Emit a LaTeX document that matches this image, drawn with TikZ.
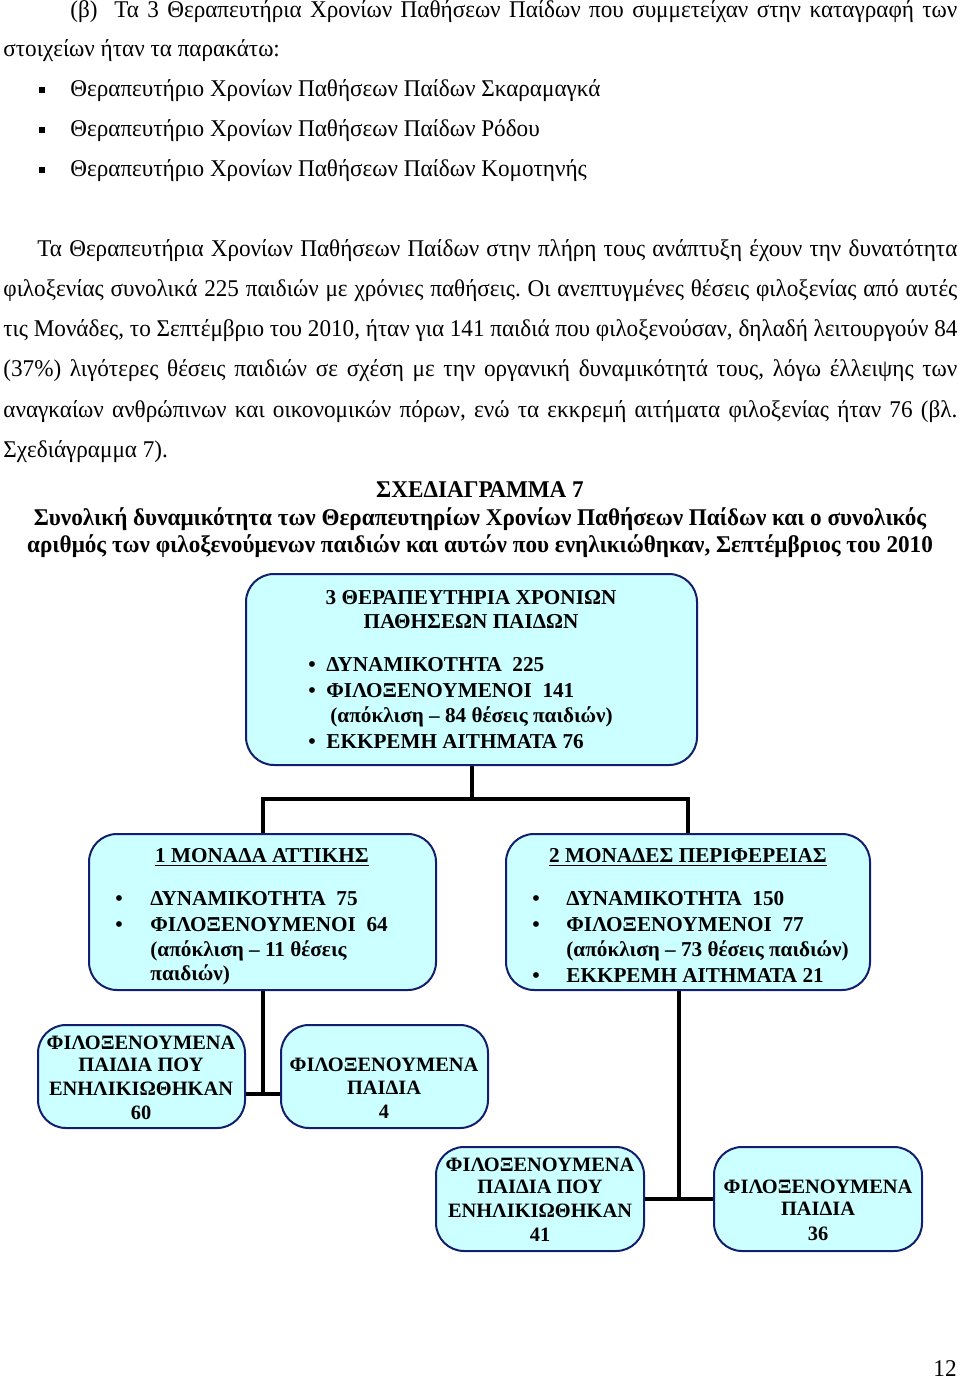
\documentclass[tikz,border=0pt]{standalone}
\usepackage{fontspec}
\setmainfont{Liberation Serif}
\newfontfamily\narrowserif{Liberation Serif}[FakeStretch=0.965]
\usepackage{xcolor}
\usetikzlibrary{positioning,calc}
\definecolor{unitfill}{RGB}{204,255,255}
\definecolor{unitline}{RGB}{20,30,110}
\frenchspacing
\tikzset{
  unit/.style={draw=unitline, line width=1pt, fill=unitfill, rounded corners=14pt, inner sep=0pt},
  body/.style={anchor=base west, inner sep=0pt, font=\narrowserif\fontsize{12}{14}\selectfont},
  capt/.style={anchor=base, inner sep=0pt, font=\narrowserif\fontsize{12}{14}\selectfont\bfseries},
  unittxt/.style={anchor=base west, inner sep=0pt, font=\fontsize{10.6}{12}\selectfont\bfseries},
  unithead/.style={anchor=base, inner sep=0pt, font=\fontsize{10.6}{12}\selectfont\bfseries},
  kidtxt/.style={anchor=base, inner sep=0pt, font=\fontsize{10.2}{12}\selectfont\bfseries},
  link/.style={line width=2pt, black}
}
\newcommand{\jline}[2]{\makebox[#1][s]{#2}}

\begin{document}
\begin{tikzpicture}[x=0.5pt, y=-0.5pt]
\useasboundingbox (0,0) rectangle (960,1379);

% Text above the diagram
\node[body] (p1a) at (70,18) {\jline{443.5pt}{(β)\ \ Τα 3 Θεραπευτήρια Χρονίων Παθήσεων Παίδων που συμμετείχαν στην καταγραφή των}};
\node[body] (p1b) at (3,57) {στοιχείων ήταν τα παρακάτω:};
\foreach \yy/\txt [count=\i] in {97/Σκαραμαγκά, 137/Ρόδου, 177/Κομοτηνής}{
  \fill (39,\yy-10) rectangle (45,\yy-4);
  \node[body] (item\i) at (70,\yy) {Θεραπευτήριο Χρονίων Παθήσεων Παίδων \txt};
}
\node[body] (p2a) at (37,257) {\jline{460pt}{Τα Θεραπευτήρια Χρονίων Παθήσεων Παίδων στην πλήρη τους ανάπτυξη έχουν την δυνατότητα}};
\node[body] (p2b) at (3,297) {\jline{477pt}{φιλοξενίας συνολικά 225 παιδιών με χρόνιες παθήσεις. Οι ανεπτυγμένες θέσεις φιλοξενίας από αυτές}};
\node[body] (p2c) at (3,337) {\jline{477pt}{τις Μονάδες, το Σεπτέμβριο του 2010, ήταν για 141 παιδιά που φιλοξενούσαν, δηλαδή λειτουργούν 84}};
\node[body] (p2d) at (3,377) {\jline{477pt}{(37\%) λιγότερες θέσεις παιδιών σε σχέση με την οργανική δυναμικότητά τους, λόγω έλλειψης των}};
\node[body] (p2e) at (3,417) {\jline{477pt}{αναγκαίων ανθρώπινων και οικονομικών πόρων, ενώ τα εκκρεμή αιτήματα φιλοξενίας ήταν 76 (βλ.}};
\node[body] (p2f) at (3,457) {Σχεδιάγραμμα 7).};

% Caption
\node[capt] (cap1) at (480,497) {ΣΧΕΔΙΑΓΡΑΜΜΑ 7};
\node[capt] (cap2) at (480,525) {Συνολική δυναμικότητα των Θεραπευτηρίων Χρονίων Παθήσεων Παίδων και ο συνολικός};
\node[capt] (cap3) at (480,552) {αριθμός των φιλοξενούμενων παιδιών και αυτών που ενηλικιώθηκαν, Σεπτέμβριος του 2010};

% Boxes
\node[unit, minimum width=225.5pt, minimum height=95.5pt] (top) at (471.5,669.5) {};
\node[unit, minimum width=173.5pt, minimum height=78pt] (attica) at (262.5,912) {};
\node[unit, minimum width=182pt, minimum height=78pt] (region) at (688,912) {};
\node[unit, minimum width=103.5pt, minimum height=51.5pt] (a60) at (141.5,1076.5) {};
\node[unit, minimum width=103.5pt, minimum height=51.5pt] (a4) at (384.5,1076.5) {};
\node[unit, minimum width=104pt, minimum height=52pt] (r41) at (540,1199) {};
\node[unit, minimum width=104pt, minimum height=52pt] (r36) at (818,1199) {};

% Connectors
\draw[link] (top.south) -- ++(0,33) coordinate (split);
\draw[link] (attica.north) |- (split) -| (region.north);
\coordinate (ajoin) at ($(attica.south)+(0,103)$);
\draw[link] (attica.south) -- (ajoin);
\draw[link] (a60.east |- ajoin) -- (a4.west |- ajoin);
\coordinate (rjoin) at ($(region.south)+(-9,0)$);
\draw[link] (rjoin) -- (rjoin |- r41.east);
\draw[link] (r41.east) -- (r36.west);

% Top box text
\node[unithead] (t1) at (471,604) {3 ΘΕΡΑΠΕΥΤΗΡΙΑ ΧΡΟΝΙΩΝ};
\node[unithead] (t2) at (471,628) {ΠΑΘΗΣΕΩΝ ΠΑΙΔΩΝ};
\foreach \yy/\txt [count=\i] in {671/ΔΥΝΑΜΙΚΟΤΗΤΑ\ \ 225, 697/ΦΙΛΟΞΕΝΟΥΜΕΝΟΙ\ \ 141, 748/ΕΚΚΡΕΜΗ ΑΙΤΗΜΑΤΑ 76}{
  \node[unittxt] (tb\i) at (308,\yy) {\textbullet};
  \node[unittxt] (tt\i) at (326,\yy) {\txt};
}
\node[unittxt] (tdev) at (330,722) {(απόκλιση – 84 θέσεις παιδιών)};

% Attica box text
\node[unithead] (ah) at (262,862) {\underline{1 ΜΟΝΑΔΑ ΑΤΤΙΚΗΣ}};
\foreach \yy/\txt [count=\i] in {905/ΔΥΝΑΜΙΚΟΤΗΤΑ\ \ 75, 931/ΦΙΛΟΞΕΝΟΥΜΕΝΟΙ\ \ 64}{
  \node[unittxt] (ab\i) at (115,\yy) {\textbullet};
  \node[unittxt] (at\i) at (150,\yy) {\txt};
}
\node[unittxt] (adev1) at (150,956) {(απόκλιση – 11 θέσεις};
\node[unittxt] (adev2) at (150,980) {παιδιών)};

% Region box text
\node[unithead] (rh) at (688,862) {\underline{2 ΜΟΝΑΔΕΣ ΠΕΡΙΦΕΡΕΙΑΣ}};
\foreach \yy/\txt [count=\i] in {905/ΔΥΝΑΜΙΚΟΤΗΤΑ\ \ 150, 931/ΦΙΛΟΞΕΝΟΥΜΕΝΟΙ\ \ 77, 982/ΕΚΚΡΕΜΗ ΑΙΤΗΜΑΤΑ 21}{
  \node[unittxt] (rb\i) at (532,\yy) {\textbullet};
  \node[unittxt] (rt\i) at (566,\yy) {\txt};
}
\node[unittxt] (rdev) at (566,956) {(απόκλιση – 73 θέσεις παιδιών)};

% Children text
\foreach \xx/\yy/\txt [count=\i] in {141/1049/ΦΙΛΟΞΕΝΟΥΜΕΝΑ, 141/1071/ΠΑΙΔΙΑ ΠΟΥ, 141/1095/ΕΝΗΛΙΚΙΩΘΗΚΑΝ, 141/1119/60,
  384/1071/ΦΙΛΟΞΕΝΟΥΜΕΝΑ, 384/1094/ΠΑΙΔΙΑ, 384/1118/4,
  540/1171/ΦΙΛΟΞΕΝΟΥΜΕΝΑ, 540/1193/ΠΑΙΔΙΑ ΠΟΥ, 540/1217/ΕΝΗΛΙΚΙΩΘΗΚΑΝ, 540/1241/41,
  818/1193/ΦΙΛΟΞΕΝΟΥΜΕΝΑ, 818/1215/ΠΑΙΔΙΑ, 818/1240/36}{
  \node[kidtxt] (k\i) at (\xx,\yy) {\txt};
}

% Page number
\node[body, anchor=base] (pg) at (945,1376) {12};

\end{tikzpicture}
\end{document}
